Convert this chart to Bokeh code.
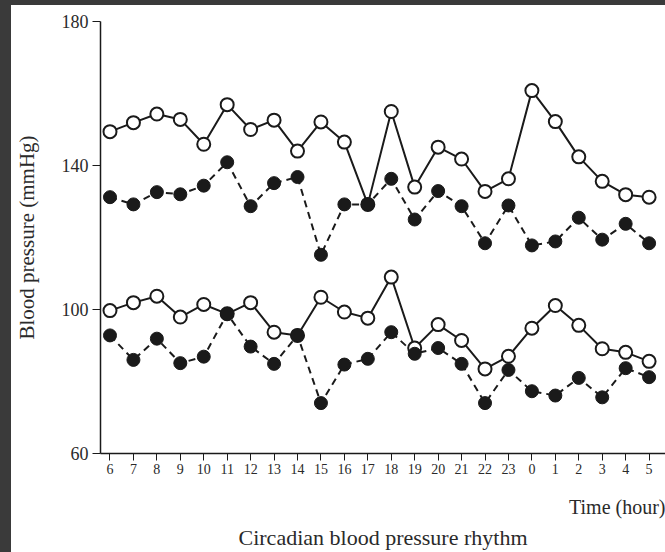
from bokeh.plotting import figure
from bokeh.models import FixedTicker, Range1d, Title, Div
from bokeh.layouts import row, column
from bokeh.embed import file_html
from bokeh.resources import INLINE

hours = ["6", "7", "8", "9", "10", "11", "12", "13", "14", "15", "16", "17",
         "18", "19", "20", "21", "22", "23", "0", "1", "2", "3", "4", "5"]
systolic_open = [149.4, 151.9, 154.3, 152.8, 145.9, 156.9, 150.0, 152.6, 144.0, 152.1, 146.5, 129.2,
                 155.0, 134.0, 145.1, 141.8, 132.8, 136.3, 160.8, 152.2, 142.4, 135.6, 131.9, 131.2]
systolic_filled = [131.2, 129.2, 132.6, 132.0, 134.4, 140.9, 128.7, 135.1, 136.8, 115.2, 129.2, 129.2,
                   136.3, 125.0, 132.9, 128.7, 118.4, 128.9, 117.8, 118.9, 125.5, 119.4, 123.8, 118.4]
diastolic_open = [99.7, 101.9, 103.7, 97.9, 101.4, 98.8, 101.9, 93.7, 92.8, 103.4, 99.3, 97.6,
                  109.0, 89.3, 95.8, 91.4, 83.5, 87.0, 94.8, 101.1, 95.6, 89.1, 88.1, 85.6]
diastolic_filled = [92.8, 86.0, 91.9, 85.1, 86.9, 98.8, 89.7, 84.9, 92.8, 74.0, 84.7, 86.3,
                    93.7, 87.7, 89.3, 84.9, 74.0, 83.2, 77.3, 76.1, 81.0, 75.6, 83.7, 81.2]
y_ticks = [60, 100, 140, 180]

xs = list(range(len(hours)))
FONT = "Liberation Serif"
INK = "#1a1a1a"
TXT = "#2a2a2a"

p = figure(width=654, height=547, output_backend="svg", toolbar_location=None,
           x_range=Range1d(-0.405, 23.7), y_range=Range1d(60, 180),
           min_border_left=89, min_border_right=0, min_border_top=16, min_border_bottom=99)
p.outline_line_color = None
p.xgrid.visible = False
p.ygrid.visible = False
p.background_fill_color = "white"
p.border_fill_color = "white"

# axes
p.xaxis.ticker = FixedTicker(ticks=xs)
p.xaxis.major_label_overrides = {i: h for i, h in enumerate(hours)}
p.xaxis.minor_tick_line_color = None
p.xaxis.major_tick_in = 0
p.xaxis.major_tick_out = 7
p.xaxis.major_label_standoff = 3
p.xaxis.major_label_text_font = FONT
p.xaxis.major_label_text_font_size = "14px"
p.xaxis.major_label_text_color = TXT
p.xaxis.axis_line_width = 1.5
p.xaxis.axis_line_color = INK
p.xaxis.major_tick_line_color = INK

p.yaxis.ticker = FixedTicker(ticks=y_ticks)
p.yaxis.minor_tick_line_color = None
p.yaxis.major_tick_in = 0
p.yaxis.major_tick_out = 8
p.yaxis.major_label_standoff = 4
p.yaxis.major_label_text_font = FONT
p.yaxis.major_label_text_font_size = "18px"
p.yaxis.major_label_text_color = TXT
p.yaxis.axis_line_width = 1.5
p.yaxis.axis_line_color = INK
p.yaxis.major_tick_line_color = INK
p.yaxis.axis_label = "Blood pressure (mmHg)"
p.yaxis.axis_label_text_font = FONT
p.yaxis.axis_label_text_font_style = "normal"
p.yaxis.axis_label_text_font_size = "21px"
p.yaxis.axis_label_text_color = TXT
p.yaxis.axis_label_standoff = 20

# series: open first, filled on top
for vals in (systolic_open, diastolic_open):
    p.line(xs, vals, line_color=INK, line_width=2)
for vals in (systolic_filled, diastolic_filled):
    p.line(xs, vals, line_color=INK, line_width=2, line_dash="7 5")
for vals in (systolic_open, diastolic_open):
    p.scatter(xs, vals, marker="circle", size=13, fill_color="white", line_color=INK, line_width=2)
for vals in (systolic_filled, diastolic_filled):
    p.scatter(xs, vals, marker="circle", size=13, fill_color=INK, line_color=INK, line_width=1)

p.add_layout(Title(text="Time (hour)", align="right", text_font=FONT, text_font_size="20px",
                   text_font_style="normal", text_color=TXT, standoff=34), "below")
title2 = Title(text="Circadian blood pressure rhythm", align="center", text_font=FONT,
               text_font_size="22px", text_font_style="normal", text_color=TXT, standoff=2)
try:
    title2.standoff = -30
except Exception:
    title2.standoff = 2
p.add_layout(title2, "below")

DARK = "#3a3a3a"
left_strip = Div(text="", width=11, height=552, margin=0, styles={"background-color": DARK})
top_strip = Div(text="", width=654, height=5, margin=0, styles={"background-color": DARK})
layout = row(left_strip, column(top_strip, p, spacing=0), spacing=0)

open("out.html", "w").write(file_html(layout, INLINE))
